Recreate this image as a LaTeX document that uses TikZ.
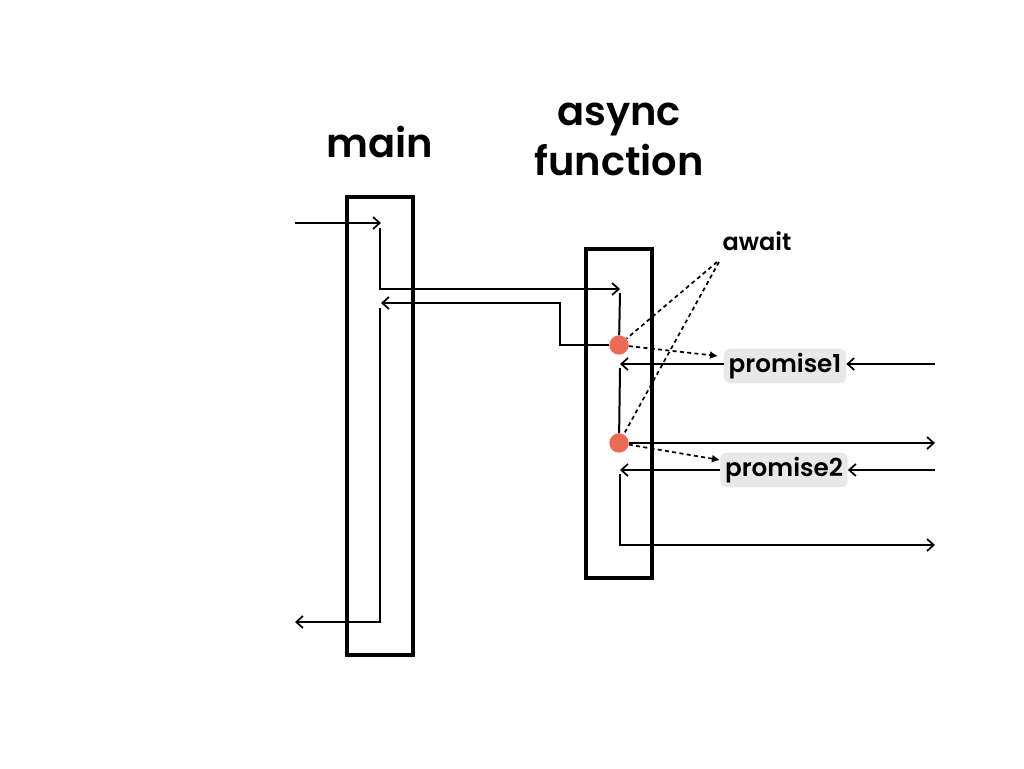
\documentclass[tikz,border=0pt]{standalone}
\usepackage{fontspec}
\setmainfont{Poppins}[BoldFont={Poppins SemiBold}]
\usetikzlibrary{arrows.meta,positioning}
\definecolor{dotred}{HTML}{EC6B56}
\definecolor{tagfill}{HTML}{E8E8E8}
\tikzset{
  frame/.style={draw, line width=3.4pt},
  wire/.style={line width=1.5pt},
  flow/.style={wire, -{Straight Barb[length=5pt,width=9pt,line width=1.3pt]}},
  hint/.style={line width=1.3pt, dash pattern=on 3pt off 2.5pt},
  title/.style={font=\fontsize{30}{37.5}\selectfont\bfseries, align=center},
  tag/.style={fill=tagfill, rounded corners=5pt, inner xsep=3.5pt, minimum height=24pt, font=\fontsize{18.5}{21}\selectfont\bfseries},
  lbl/.style={font=\fontsize{18}{21}\selectfont\bfseries},
  dot/.style={circle, fill=dotred, inner sep=0pt, minimum size=14.5pt}
}
\begin{document}
\begin{tikzpicture}[x=0.75pt,y=-0.75pt]
\useasboundingbox (0,0) rectangle (1024,768);
% frames
\draw[frame] (347,197) rectangle (413,655);
\draw[frame] (586,249) rectangle (652,578);
% titles
\node[title] (mainT) at (380,142) {main};
\node[title] (asyncT) at (619,139) {async\\function};
% await points and promises
\node[dot] (d1) at (619,345) {};
\node[dot] (d2) at (619,443) {};
\node[tag] (p1) at (785,366) {promise1};
\node[tag] (p2) at (784,470) {promise2};
\node[lbl] (aw) at (757,241) {await};
\coordinate (w1) at (717,262);
\coordinate (w2) at (719,262);
\coordinate (h1) at (718,356);
\coordinate (h2) at (720,460);
% main flow
\draw[flow] (295,223) -- (381,223);
\draw[flow] (380,228) |- (620,289);
\draw[flow] (d1) -| (560,303) -- (381,303);
\draw[flow] (380,308) |- (295,622);
% async flow
\draw[wire] (620,293) -- (d1);
\draw[flow] (935,364) -- (p1.east |- 0,364);
\draw[flow] (p1.west |- 0,364) -- (620,364);
\draw[wire] (620,368) -- (d2);
\draw[flow] (d2) -- (935,443);
\draw[flow] (935,470) -- (p2.east);
\draw[flow] (p2.west) -- (620,470);
\draw[flow] (620,474) |- (935,545);
% await hints
\draw[hint] (w1) -- (d1);
\draw[hint] (w2) -- (d2);
\draw[hint, -{Latex[length=6pt,width=6pt]}] (d1) -- (h1);
\draw[hint, -{Latex[length=6pt,width=6pt]}] (d2) -- (h2);
\end{tikzpicture}
\end{document}
